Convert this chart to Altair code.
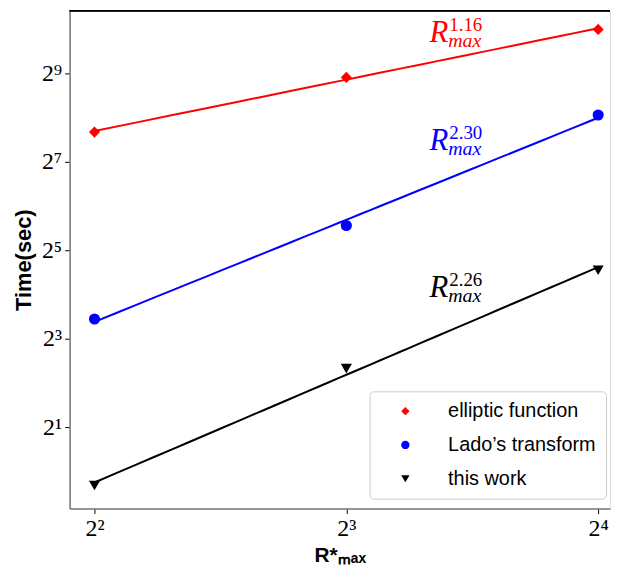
import altair as alt
import pandas as pd

series = ["elliptic function", "Lado’s transform", "this work"]
r_values = [4, 8, 16]
elliptic = [204, 481, 1021]
lado = [10.9, 47.2, 267]
this_work = [0.80, 5.0, 23.4]
colors = ["#ff0000", "#0000ff", "#000000"]
shapes = ["diamond", "circle", "triangle-down"]
exponents = ["1.16", "2.30", "2.26"]
label_r = [10, 10, 10]
label_time = [843, 154, 15.4]
x_ticks = [4, 8, 16]
x_tick_labels = ["2²", "2³", "2⁴"]
y_ticks = [2, 8, 32, 128, 512]
y_tick_labels = ["2¹", "2³", "2⁵", "2⁷", "2⁹"]
x_domain = [3.735, 16.53]
y_domain = [0.558, 1366]

rows = []
for name, vals in zip(series, [elliptic, lado, this_work]):
    for r, t in zip(r_values, vals):
        rows.append({"series": name, "R": r, "time": t})
df = pd.DataFrame(rows)
ann = pd.DataFrame({"series": series, "R": label_r, "time": label_time, "exp": exponents})


def label_expr(vals, labels):
    parts = " ".join(f"datum.value == {v} ? '{l}' :" for v, l in zip(vals, labels))
    return parts + " ''"


color_expr = " ".join(f"datum.series == '{s}' ? '{c}' :" for s, c in zip(series, colors)) + " 'black'"

xs = alt.Scale(type="log", base=2, domain=x_domain, nice=False)
ys = alt.Scale(type="log", base=2, domain=y_domain, nice=False)

common_axis = dict(
    grid=False, labelFont="Liberation Serif", labelFontSize=24, labelColor="black",
    tickColor="black", tickSize=5, tickWidth=1, domainColor="#777777", domainWidth=1.5,
    labelPadding=3, labelOverlap=False, labelFlush=False,
    titleFont="Liberation Sans", titleFontWeight="bold", titleColor="black",
)

x_enc = alt.X("R:Q", scale=xs, axis=alt.Axis(
    values=x_ticks, labelExpr=label_expr(x_ticks, x_tick_labels),
    title="R*ₘₐₓ", titleFontSize=21, titlePadding=4, labelAngle=0, **common_axis))
y_enc = alt.Y("time:Q", scale=ys, axis=alt.Axis(
    values=y_ticks, labelExpr=label_expr(y_ticks, y_tick_labels),
    title="Time(sec)", titleFontSize=22, titlePadding=6, **common_axis))

legend = alt.Legend(
    title=None, orient="none", legendX=302, legendY=383,
    fillColor="white", strokeColor="#cccccc", cornerRadius=4, padding=10,
    labelFont="Liberation Sans", labelFontSize=20, labelColor="black",
    symbolSize=70, rowPadding=14, labelOffset=33, symbolOffset=16,
)
color_scale = alt.Scale(domain=series, range=colors)
shape_scale = alt.Scale(domain=series, range=shapes)

points = alt.Chart(df).mark_point(filled=True, size=125, opacity=1).encode(
    x=x_enc, y=y_enc,
    color=alt.Color("series:N", scale=color_scale, legend=legend),
    shape=alt.Shape("series:N", scale=shape_scale, legend=legend),
)

lines = alt.Chart(df).transform_calculate(col=color_expr).transform_regression(
    "R", "time", groupby=["series", "col"], method="pow", extent=[4, 16]
).mark_line(strokeWidth=2).encode(
    x=x_enc, y=y_enc,
    color=alt.Color("col:N", scale=None),
)

ann_base = alt.Chart(ann).transform_calculate(col=color_expr).encode(
    x=x_enc, y=y_enc,
    color=alt.Color("col:N", scale=None),
)
r_text = ann_base.mark_text(text="R", font="Liberation Serif", fontStyle="italic",
                            fontSize=31, align="left", baseline="alphabetic", dx=2)
exp_text = ann_base.mark_text(font="Liberation Serif", fontSize=19, align="left",
                              baseline="alphabetic", dx=22, dy=-11).encode(text="exp:N")
sub_text = ann_base.mark_text(text="max", font="Liberation Serif", fontStyle="italic",
                              fontSize=20, align="left", baseline="alphabetic", dx=21, dy=5)

top_spine = alt.Chart(ann).mark_rule(color="black", strokeWidth=1.5).encode(
    x=alt.value(0), x2=alt.value(544), y=alt.value(0),
)

chart = alt.layer(lines, points, r_text, exp_text, sub_text, top_spine).properties(
    width=544, height=501,
    padding={"left": 4, "top": 0, "right": 0, "bottom": 0},
).configure_view(stroke=None).configure(background="white")

chart.save("out.html", embed_options={"renderer": "svg", "actions": False})
